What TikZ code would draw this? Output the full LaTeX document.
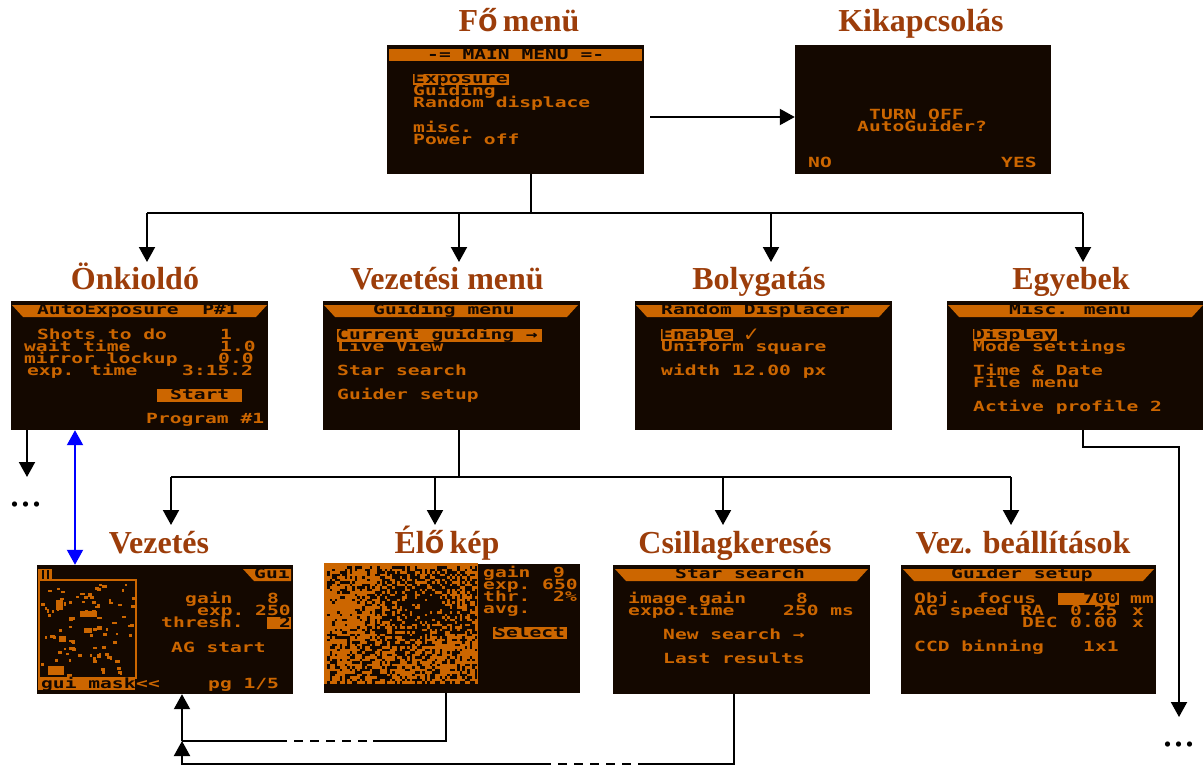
\documentclass[tikz,border=0pt]{standalone}
\usepackage{fontspec}
\usetikzlibrary{arrows.meta}
\setmainfont{Liberation Serif}
\newfontfamily\lcdfont[FakeStretch=1.4]{DejaVu Sans Mono}
\newfontfamily\sansfam{Liberation Sans}
\newfontfamily\symfam{DejaVu Sans}
\definecolor{lcdorange}{HTML}{CC6600}
\definecolor{lcddark}{HTML}{140800}
\definecolor{titlecol}{HTML}{9C3D0A}
\newcommand{\oo}{{\sansfam\bfseries ő}}
\tikzset{
  screen/.style={fill=lcddark,inner sep=0pt,minimum width=#1,minimum height=129pt,draw=none},
  ttl/.style={text=titlecol,font=\fontsize{32}{32}\selectfont\bfseries,anchor=base,inner sep=0pt},
  lcd/.style={text=lcdorange,font=\lcdfont\fontsize{14}{14}\selectfont\bfseries,anchor=base west,inner sep=0pt,yshift=-0.7pt},
  lcdd/.style={lcd,text=lcddark},
  hl/.style={fill=lcdorange},
  arr/.style={line width=2pt,draw=black,-{Triangle[length=15pt,width=16pt]}},
  barr/.style={line width=2pt,draw=blue,{Triangle[length=15pt,width=16pt]}-{Triangle[length=15pt,width=16pt]}},
  lin/.style={line width=2pt,draw=black},
  dashline/.style={line width=2pt,draw=black,dash pattern=on 9pt off 7pt},
  dots/.style={font=\fontsize{44}{44}\selectfont,anchor=base,inner sep=0pt,text=black}
}
\newcommand{\titlebar}[2]{\fill[hl] (#1,305) -- (#2,305) -- (#2-11,317) -- (#1+11,317) -- cycle;}
\newcommand{\titlebarlow}[2]{\fill[hl] (#1,569) -- (#2,569) -- (#2-11,581) -- (#1+11,581) -- cycle;}
\begin{document}
\begin{tikzpicture}[x=1pt,y=-1pt]
\useasboundingbox (0,0) rectangle (1203,765);
\fill[white] (0,0) rectangle (1203,765);
% ---------- screens
\node[screen=257pt] (main) at (515.5,109.5) {};
\node[screen=256pt] (off) at (923,109.5) {};
\node[screen=257pt] (auto) at (139.5,365.5) {};
\node[screen=257pt] (guid) at (451.5,365.5) {};
\node[screen=257pt] (rand) at (763.5,365.5) {};
\node[screen=256pt] (misc) at (1075,365.5) {};
\node[screen=256pt] (cur) at (165,629.5) {};
\node[screen=256pt] (live) at (452,628) {};
\node[screen=257pt] (star) at (741.5,629.5) {};
\node[screen=255pt] (setup) at (1028.5,629) {};
% ---------- titles
\node[ttl] (tmain) at (519,32) {F\oo\,menü};
\node[ttl] (toff) at (921,32) {Kikapcsolás};
\node[ttl] (tauto) at (135,289) {Önkioldó};
\node[ttl] (tguid) at (447,289) {Vezetési menü};
\node[ttl] (trand) at (759,289) {Bolygatás};
\node[ttl] (tmisc) at (1071,289) {Egyebek};
\node[ttl] (tcur) at (159,553) {Vezetés};
\node[ttl] (tlive) at (447,553) {Él\oo\,kép};
\node[ttl] (tstar) at (735,553) {Csillagkeresés};
\node[ttl] (tset) at (1023,553) {Vez. beállítások};
% ---------- main menu
\fill[hl] (389,49) rectangle (642,61);
\node[lcdd] (m0) at (427,59) {-= MAIN MENU =-};
\fill[hl] (413,74) rectangle (509,85);
\node[lcdd] (m1) at (413,83) {Exposure};
\node[lcd] (m2) at (413,95) {Guiding};
\node[lcd] (m3) at (413,107) {Random displace};
\node[lcd] (m4) at (413,132) {misc.};
\node[lcd] (m5) at (413,144) {Power off};
% ---------- turn off
\node[lcd] (o1) at (869,119) {TURN OFF};
\node[lcd] (o2) at (857,131) {AutoGuider?};
\node[lcd] (o3) at (808,167) {NO};
\node[lcd] (o4) at (1001,167) {YES};
% ---------- auto exposure
\titlebar{12}{267}
\node[lcdd] (a0) at (37,314) {AutoExposure\ \ P\#1};
\node[lcd] (a1) at (37,339) {Shots to do};
\node[lcd] (a1v) at (220,339) {1};
\node[lcd] (a2) at (24,351) {wait time};
\node[lcd] (a2v) at (220,351) {1.0};
\node[lcd] (a3) at (24,363) {mirror lockup};
\node[lcd] (a3v) at (218,363) {0.0};
\node[lcd] (a4) at (27,375) {exp. time};
\node[lcd] (a4v) at (182,375) {3:15.2};
\fill[hl] (157,389) rectangle (242,402);
\node[lcdd] (a5) at (170,399) {Start};
\node[lcd] (a6) at (146,423) {Program \#1};
% ---------- guiding menu
\titlebar{324}{578}
\node[lcdd] (g0) at (373,314) {Guiding menu};
\fill[hl] (337,329) rectangle (542,342);
\node[lcdd] (g1) at (337,339) {Current guiding →};
\node[lcd] (g2) at (337,351) {Live View};
\node[lcd] (g3) at (337,375) {Star search};
\node[lcd] (g4) at (337,399) {Guider setup};
% ---------- random displacer
\titlebar{636}{890}
\node[lcdd] (r0) at (661,314) {Random Displacer};
\fill[hl] (661,329) rectangle (733,341);
\node[lcdd] (r1) at (661,339) {Enable};
\node[lcd,font=\symfam\bfseries\fontsize{20}{20}\selectfont] (r1c) at (743,341) {✓};
\node[lcd] (r2) at (661,351) {Uniform square};
\node[lcd] (r3) at (661,375) {width 12.00 px};
% ---------- misc
\titlebar{948}{1203}
\node[lcdd] (x0) at (1009,314) {Misc. menu};
\fill[hl] (973,329) rectangle (1057,341);
\node[lcdd] (x1) at (973,339) {Display};
\node[lcd] (x2) at (973,351) {Mode settings};
\node[lcd] (x3) at (973,375) {Time \& Date};
\node[lcd] (x4) at (973,387) {File menu};
\node[lcd] (x5) at (973,411) {Active profile 2};
% ---------- current guiding
\fill[hl] (38,569) rectangle (52,580);
\fill[lcddark] (42,570) rectangle (44,580);
\fill[lcddark] (47,570) rectangle (49,580);
\draw[lcdorange,line width=2pt] (39,580) rectangle (136,678);
\pgfmathsetseed{11}
\foreach \i in {1,...,90}{
  \pgfmathsetmacro\px{41+rnd*92}
  \pgfmathsetmacro\py{583+rnd*92}
  \pgfmathsetmacro\pw{2+rnd*3}
  \pgfmathsetmacro\ph{2+rnd*2}
  \fill[lcdorange] (\px,\py) rectangle (\px+\pw,\py+\ph);
}
\fill[lcdorange] (56,600) rectangle (63,610);
\fill[lcdorange] (80,611) rectangle (97,617);
\fill[lcdorange] (48,666) rectangle (64,675);
\fill[lcdorange] (59,636) rectangle (66,642);
\fill[lcdorange] (84,628) rectangle (92,633);
\fill[hl] (38,678) rectangle (135,690);
\node[lcdd] (c0) at (41,688) {gui mask};
\node[lcd] (c1) at (136,688) {<<};
\node[lcd] (c2) at (208,688) {pg 1/5};
\fill[hl] (243,569) -- (291,569) -- (291,581) -- (254,581) -- cycle;
\node[lcdd] (c3) at (254,578) {Gui};
\node[lcd] (c4) at (185,603) {gain};
\node[lcd] (c4v) at (267,603) {8};
\node[lcd] (c5) at (197,615) {exp.};
\node[lcd] (c5v) at (255,615) {250};
\node[lcd] (c6) at (161,627) {thresh.};
\fill[hl] (267,617) rectangle (291,629);
\node[lcdd] (c6v) at (279,627) {2};
\node[lcd] (c7) at (171,652) {AG start};
% ---------- live view
\fill[hl] (324,563) rectangle (478,684);
\pgfmathsetseed{5}
\foreach \cx in {0,...,59}{
  \foreach \cy in {0,...,46}{
    \pgfmathsetmacro\xx{327+2.5*\cx}
    \pgfmathsetmacro\yy{566+2.5*\cy}
    \pgfmathtruncatemacro\hit{rnd<(0.38+0.5*exp(-((\xx-418)*(\xx-418)/2000+(\yy-605)*(\yy-605)/1100))-0.33*exp(-((\xx-348)*(\xx-348)/500+(\yy-608)*(\yy-608)/500))-0.3*exp(-((\xx-445)*(\xx-445)/300+(\yy-645)*(\yy-645)/150)))?1:0}
    \ifnum\hit=1 \fill[lcddark] (\xx,\yy) rectangle +(2.5,2.5); \fi
  }
}
\node[lcd] (l1) at (483,577) {gain};
\node[lcd] (l1v) at (553,577) {9};
\node[lcd] (l2) at (483,589) {exp.};
\node[lcd] (l2v) at (542,589) {650};
\node[lcd] (l3) at (483,601) {thr.};
\node[lcd] (l3v) at (553,601) {2\%};
\node[lcd] (l4) at (483,613) {avg.};
\fill[hl] (493,627) rectangle (567,639);
\node[lcdd] (l5) at (494,637) {Select};
% ---------- star search
\titlebarlow{615}{868}
\node[lcdd] (s0) at (675,578) {Star search};
\node[lcd] (s1) at (628,603) {image gain};
\node[lcd] (s1v) at (796,603) {8};
\node[lcd] (s2) at (628,615) {expo.time};
\node[lcd] (s2v) at (783,615) {250 ms};
\node[lcd] (s3) at (663,639) {New search →};
\node[lcd] (s4) at (663,663) {Last results};
% ---------- guider setup
\titlebarlow{903}{1154}
\node[lcdd] (u0) at (951,578) {Guider setup};
\node[lcd] (u1) at (914,603) {Obj. focus};
\fill[hl] (1058,593) rectangle (1119,605);
\node[lcdd] (u1v) at (1083,603) {700};
\node[lcd] (u1u) at (1130,603) {mm};
\node[lcd] (u2) at (914,615) {AG speed RA};
\node[lcd] (u2v) at (1070,615) {0.25};
\node[lcd] (u2u) at (1132,615) {x};
\node[lcd] (u3) at (1022,627) {DEC};
\node[lcd] (u3v) at (1070,627) {0.00};
\node[lcd] (u3u) at (1132,627) {x};
\node[lcd] (u4) at (914,651) {CCD binning};
\node[lcd] (u4v) at (1083,651) {1x1};
% ---------- free ends and junctions
\coordinate (offin) at (off.west |- 0,117);
\coordinate (mainout) at (650,117);
\coordinate (mj) at (531,213);
\coordinate (gj) at (459,477);
\node[dots] (dl) at (26,506) {...};
\node[dots] (dr) at (1179,746) {...};
% ---------- connectors
\draw[arr] (mainout) -- (offin);
\draw[lin] (main.south -| mj) -- (mj);
\draw[lin] (147,213) -- (1083,213);
\foreach \xp in {147,459,771,1083}
  \draw[arr] (\xp,213) -- (\xp,262);
\draw[lin] (guid.south -| gj) -- (gj);
\draw[lin] (171,477) -- (1011,477);
\foreach \xp in {171,435,723,1011}
  \draw[arr] (\xp,477) -- (\xp,525);
\draw[arr] (auto.south -| 27,0) -- (27,477);
\draw[barr] (auto.south -| 75,0) -- (cur.north -| 75,0);
\draw[arr] (misc.south -| 1083,0) -- (1083,447) -- (1179,447) -- (1179,717);
% feedback lines
\draw[arr] (182,741) -- (cur.south -| 182,0);
\draw[arr] (182,765) -- (182,741);
\draw[lin] (182,741) -- (278,741);
\draw[dashline] (278,741) -- (373,741);
\draw[lin] (373,741) -- (446,741) -- (live.south -| 446,0);
\draw[lin] (182,764) -- (542,764);
\draw[dashline] (542,764) -- (638,764);
\draw[lin] (638,764) -- (734,764) -- (star.south -| 734,0);
\end{tikzpicture}
\end{document}
